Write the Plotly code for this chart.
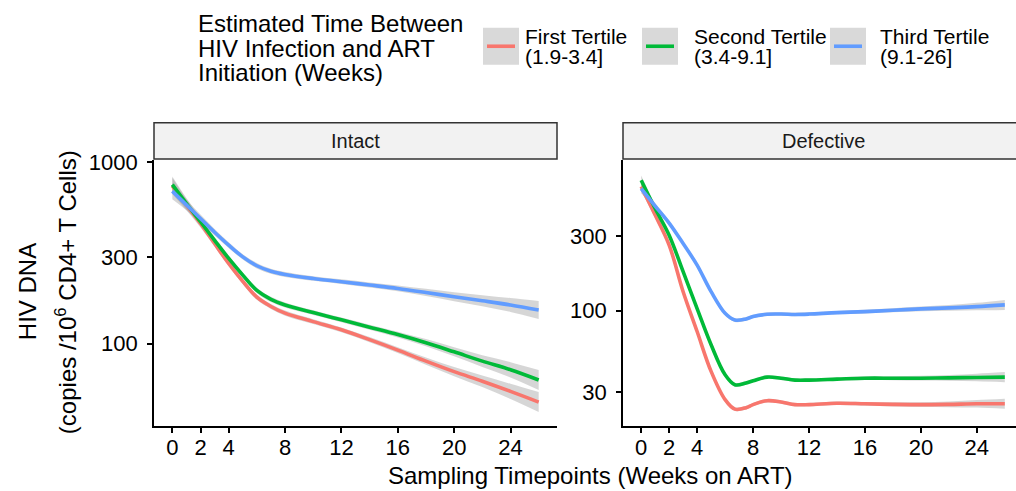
import plotly.graph_objects as go

W, H = 1016, 491
FONT = "Liberation Sans, Arial, sans-serif"

# ---------------- data ----------------
weeks_intact = [0, 1, 2, 3, 4, 5, 6, 7, 8, 10, 12, 14, 16, 18, 20, 22, 24, 26]
intact_first = [738, 580, 458, 355, 276, 220, 180, 160, 147, 132, 119, 105, 92, 80, 70, 62, 54.5, 47.6]
intact_second = [750, 590, 468, 370, 294, 238, 196, 175, 163, 148, 135, 123, 112, 101, 90, 80, 71.7, 63]
intact_third = [690, 580, 488, 410, 348, 300, 268, 250, 240, 228, 219, 210, 201, 191, 181, 172, 163, 153]
# half-width of the grey confidence band, in decades (log10 units)
band_intact_first = [0.045, 0.03, 0.022, 0.018, 0.016, 0.015, 0.015, 0.014, 0.014, 0.013, 0.013, 0.014, 0.016, 0.02, 0.025, 0.032, 0.042, 0.055]
band_intact_second = [0.045, 0.03, 0.022, 0.018, 0.016, 0.015, 0.015, 0.014, 0.014, 0.013, 0.013, 0.014, 0.016, 0.02, 0.025, 0.032, 0.042, 0.055]
band_intact_third = [0.045, 0.03, 0.022, 0.018, 0.016, 0.015, 0.015, 0.014, 0.014, 0.013, 0.013, 0.014, 0.016, 0.02, 0.025, 0.03, 0.038, 0.05]

weeks_defective = [0, 1, 2, 3, 4, 5, 6, 6.7, 7.5, 8, 9, 10, 11, 12, 14, 16, 18, 20, 22, 24, 26]
defective_first = [620, 407, 262, 132, 73.5, 40.9, 27, 23.5, 24, 25.1, 26.6, 26.1, 25.1, 25.1, 25.6, 25.4, 25.2, 25.1, 25.2, 25.4, 25.4]
defective_second = [680, 448, 303, 177, 103, 60.5, 38.9, 33.6, 34.5, 35.6, 37.6, 37, 36, 36, 36.5, 37, 37, 37, 37.2, 37.4, 37.6]
defective_third = [601, 465, 362, 268, 195, 132, 96, 87, 88.5, 91.6, 94.7, 95, 94.5, 95, 97, 98.5, 100.5, 102.5, 104, 106, 108.7]
band_defective = [0.03, 0.02, 0.015, 0.013, 0.012, 0.012, 0.012, 0.012, 0.012, 0.011, 0.011, 0.011, 0.011, 0.011, 0.011, 0.012, 0.013, 0.015, 0.018, 0.024, 0.032]

groups = ["First Tertile", "Second Tertile", "Third Tertile"]
group_ranges = ["(1.9-3.4]", "(3.4-9.1]", "(9.1-26]"]
colors = ["#F8766D", "#00BA38", "#619CFF"]
facets = ["Intact", "Defective"]
x_ticks = [0, 2, 4, 8, 12, 16, 20, 24]
y_ticks_intact = [100, 300, 1000]
y_ticks_defective = [30, 100, 300]

legend_title = ["Estimated Time Between", "HIV Infection and ART", "Initiation (Weeks)"]
x_title = "Sampling Timepoints (Weeks on ART)"
y_title_1 = "HIV DNA"
y_title_2 = "(copies /10<sup>6</sup> CD4+ T Cells)"

# ---------------- figure ----------------
fig = go.Figure()
BAND = "rgba(153,153,153,0.4)"

panels = [
    ("x", "y", weeks_intact,
     [intact_first, intact_second, intact_third],
     [band_intact_first, band_intact_second, band_intact_third]),
    ("x2", "y2", weeks_defective,
     [defective_first, defective_second, defective_third],
     [band_defective, band_defective, band_defective]),
]

for xa, ya, xs, series, bands in panels:
    for ys, bw in zip(series, bands):
        lo = [v / (10 ** b) for v, b in zip(ys, bw)]
        hi = [v * (10 ** b) for v, b in zip(ys, bw)]
        fig.add_trace(go.Scatter(x=xs, y=lo, xaxis=xa, yaxis=ya, mode="lines",
                                 line=dict(width=0, shape="spline", smoothing=1.0),
                                 showlegend=False, hoverinfo="skip"))
        fig.add_trace(go.Scatter(x=xs, y=hi, xaxis=xa, yaxis=ya, mode="lines",
                                 line=dict(width=0, shape="spline", smoothing=1.0),
                                 fill="tonexty", fillcolor=BAND,
                                 showlegend=False, hoverinfo="skip"))
    for ys, col, name in zip(series, colors, groups):
        fig.add_trace(go.Scatter(x=xs, y=ys, xaxis=xa, yaxis=ya, mode="lines", name=name,
                                 line=dict(color=col, width=3.6, shape="spline", smoothing=1.0),
                                 showlegend=False))

# ---------------- layout geometry (pixels) ----------------
L1, R1 = 154, 557
L2, R2 = 623, 1023
TOP, BOT = 153, 425
STRIP_TOP, STRIP_BOT = 115, 152


def px(x):
    return x / W


def py(y):
    return 1 - y / H


axis_common = dict(
    showline=True, linecolor="#000000", linewidth=1.6,
    ticks="outside", ticklen=5, tickwidth=1.6, tickcolor="#000000",
    showgrid=False, zeroline=False,
    tickfont=dict(family=FONT, size=22, color="#000000"),
)

fig.update_layout(
    width=W, height=H,
    margin=dict(l=0, r=0, t=0, b=0),
    paper_bgcolor="white", plot_bgcolor="white",
    showlegend=False,
    xaxis=dict(domain=[px(L1), px(R1)], range=[-1.3, 27.3], tickvals=x_ticks,
               anchor="y", ticklabelstandoff=-5, **axis_common),
    xaxis2=dict(domain=[px(L2), 1.0], range=[-1.3, 26.8], tickvals=x_ticks,
                anchor="y2", ticklabelstandoff=-5, **axis_common),
    yaxis=dict(domain=[py(BOT), py(TOP)], type="log", range=[1.544, 3.011],
               tickvals=y_ticks_intact, ticktext=[str(v) for v in y_ticks_intact],
               anchor="x", ticklabelstandoff=5, **axis_common),
    yaxis2=dict(domain=[py(BOT), py(TOP)], type="log", range=[1.261, 2.962],
                tickvals=y_ticks_defective, ticktext=[str(v) for v in y_ticks_defective],
                anchor="x2", ticklabelstandoff=5, **axis_common),
)

shapes = []
annotations = []

# facet strips
for (l, r), label in zip([(L1, R1), (L2, R2)], facets):
    shapes.append(dict(type="rect", xref="paper", yref="paper",
                       x0=px(l), x1=px(r), y0=py(STRIP_BOT), y1=py(STRIP_TOP),
                       fillcolor="#F2F2F2", line=dict(color="#333333", width=1.5)))
    annotations.append(dict(xref="paper", yref="paper", x=px((l + r) / 2),
                            y=py((STRIP_TOP + STRIP_BOT) / 2),
                            text=label, showarrow=False, xanchor="center", yanchor="middle",
                            font=dict(family=FONT, size=20, color="#1A1A1A")))

# legend (drawn by hand, like ggplot's top legend)
title_y = [14, 39, 64]
for line, ty in zip(legend_title, title_y):
    annotations.append(dict(xref="paper", yref="paper", x=px(196), y=py(ty),
                            text=line, showarrow=False, xanchor="left", yanchor="middle",
                            font=dict(family=FONT, size=24, color="#000000")))

key_x = [483, 642, 830]
label_x = [523, 692, 878]
for kx, lx, col, name, rng in zip(key_x, label_x, colors, groups, group_ranges):
    shapes.append(dict(type="rect", xref="paper", yref="paper",
                       x0=px(kx), x1=px(kx + 36), y0=py(56), y1=py(18),
                       fillcolor="#D9D9D9", line=dict(width=0)))
    shapes.append(dict(type="line", xref="paper", yref="paper",
                       x0=px(kx + 4), x1=px(kx + 32), y0=py(37), y1=py(37),
                       line=dict(color=col, width=3.6)))
    annotations.append(dict(xref="paper", yref="paper", x=px(lx), y=py(27),
                            text=name, showarrow=False, xanchor="left", yanchor="middle",
                            font=dict(family=FONT, size=21, color="#000000")))
    annotations.append(dict(xref="paper", yref="paper", x=px(lx), y=py(47),
                            text=rng, showarrow=False, xanchor="left", yanchor="middle",
                            font=dict(family=FONT, size=21, color="#000000")))

# axis titles
annotations.append(dict(xref="paper", yref="paper", x=px(590), y=py(475),
                        text=x_title, showarrow=False, xanchor="center", yanchor="middle",
                        font=dict(family=FONT, size=24, color="#000000")))
annotations.append(dict(xref="paper", yref="paper", x=px(27), y=py(288),
                        text=y_title_1, showarrow=False, textangle=-90,
                        xanchor="center", yanchor="middle",
                        font=dict(family=FONT, size=24, color="#000000")))
annotations.append(dict(xref="paper", yref="paper", x=px(66), y=py(288),
                        text=y_title_2, showarrow=False, textangle=-90,
                        xanchor="center", yanchor="middle",
                        font=dict(family=FONT, size=24, color="#000000")))

fig.update_layout(shapes=shapes, annotations=annotations)

fig.write_html("out.html")
